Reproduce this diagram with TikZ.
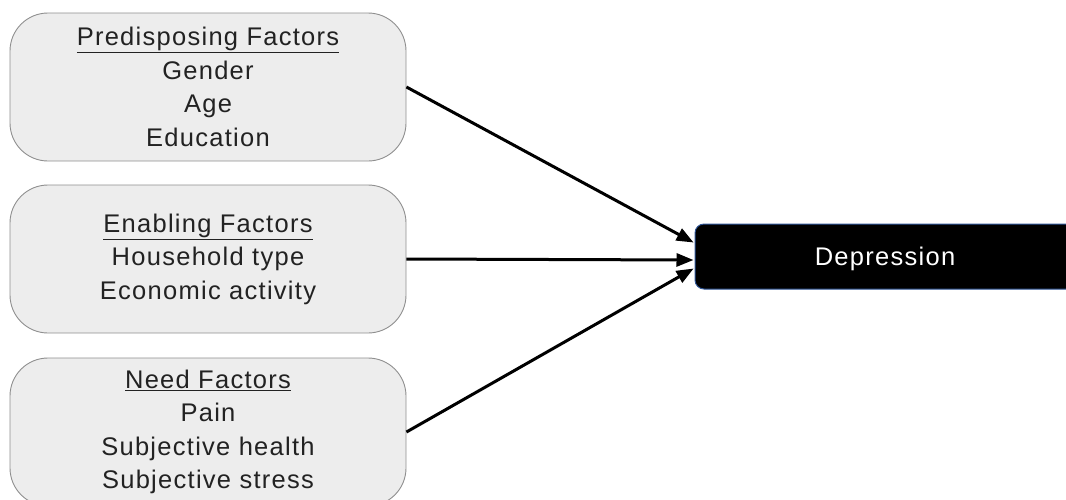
\documentclass[tikz,border=0pt]{standalone}
\usepackage{fontspec}
\setmainfont{Liberation Sans}[LetterSpace=5]
\usetikzlibrary{arrows.meta}
\definecolor{boxfill}{HTML}{EDEDED}
\definecolor{boxline}{HTML}{8F8F8F}
\definecolor{txt}{HTML}{222222}
\definecolor{depline}{HTML}{2F5597}
\tikzset{
  factorbox/.style={draw=boxline, line width=0.9pt, fill=boxfill, rounded corners=38pt,
    minimum width=396pt, minimum height=148pt, inner sep=0pt, align=center,
    text=txt, font=\fontsize{25.5}{33.5}\selectfont},
  depbox/.style={draw=depline, line width=1pt, fill=black, rounded corners=9pt,
    minimum width=380pt, minimum height=65pt, inner sep=0pt, text=white,
    text height=18pt, text depth=0pt,
    font=\fontsize{25.5}{30}\selectfont},
  conn/.style={line width=3pt, draw=black, -{Triangle[length=17pt,width=13pt]}, shorten >=1pt}
}
\begin{document}
\begin{tikzpicture}[x=1pt,y=-1pt]
\useasboundingbox (0,0) rectangle (1066,499);
\node[factorbox] (pre) at (208,87) {\underline{Predisposing Factors}\\Gender\\Age\\Education};
\node[factorbox] (ena) at (208,259) {\underline{Enabling Factors}\\Household type\\Economic activity};
\node[factorbox] (need) at (208,432) {\underline{Need Factors}\\Pain\\Subjective health\\Subjective stress};
\node[depbox] (dep) at (885,256.5) {Depression};
\draw[conn] (pre.east) -- ([yshift=13.5pt]dep.west);
\draw[conn] (ena.east) -- ([yshift=-3.5pt]dep.west);
\draw[conn] (need.east) -- ([yshift=-11.5pt]dep.west);
\end{tikzpicture}
\end{document}
